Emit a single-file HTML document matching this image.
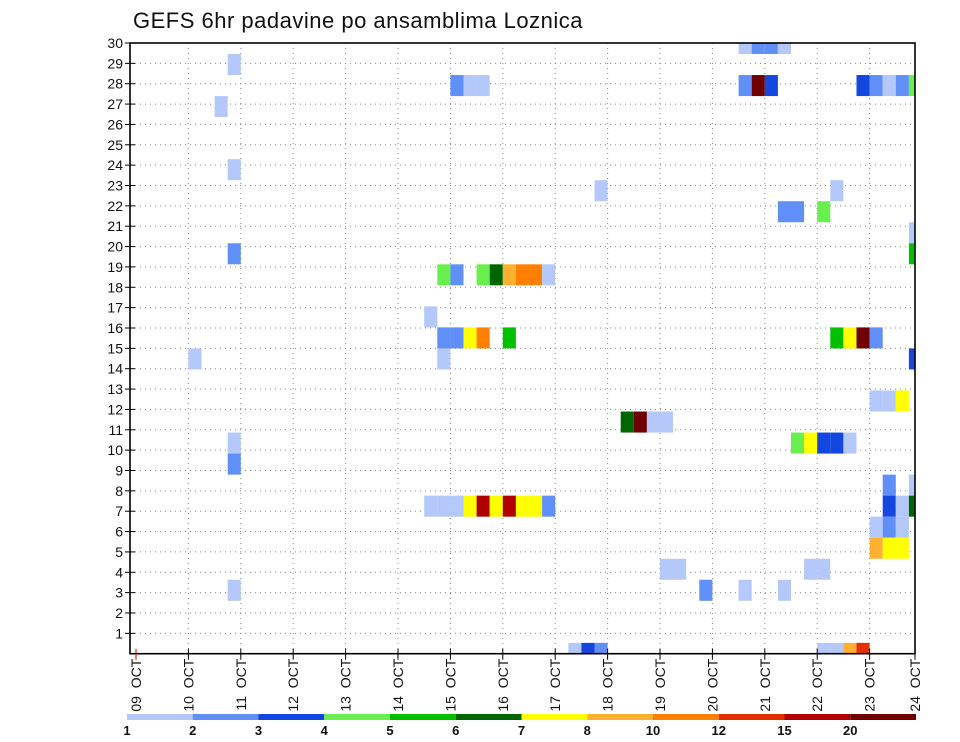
<!DOCTYPE html>
<html><head><meta charset="utf-8"><style>
html,body{margin:0;padding:0;background:#fff;width:960px;height:742px;overflow:hidden}
svg{display:block}
text{font-family:"Liberation Sans",sans-serif;fill:#111}
</style></head><body>
<svg id="chart" width="960" height="742" xmlns="http://www.w3.org/2000/svg">
<text x="133" y="28" font-size="22" letter-spacing="0.5">GEFS 6hr padavine po ansamblima Loznica</text>
<defs><clipPath id="plotclip"><rect x="130" y="43" width="785" height="610.7"/></clipPath></defs>
<g id="grid"></g>
<g id="cells" clip-path="url(#plotclip)"></g>
<g id="axes"></g>
<g id="legend"></g>
</svg>
<script>
// data: 6-hour step index from 09 OCT 00Z, ensemble member, precipitation mm
const cellTime =   [46,47,48,49, 7, 24,25,26,46,47,48,55,56,57,58,59, 6, 7, 35,53, 49,50,52, 59, 7,59, 23,24,26,27,28,29,30,31, 22, 23,24,25,26,28,53,54,55,56, 4,23,59, 56,57,58, 37,38,39,40, 7,50,51,52,53,54, 7, 57,59, 22,23,24,25,26,27,28,29,30,31,57,58,59, 56,57,58, 56,57,58, 40,41,51,52, 7,43,46,49, 33,34,35,52,53,54,55];
const cellMember = [30,30,30,30,29, 28,28,28,28,28,28,28,28,28,28,28,27,24, 23,23, 22,22,22, 21,20,20, 19,19,19,19,19,19,19,19, 17, 16,16,16,16,16,16,16,16,16, 15,15,15, 13,13,13, 12,12,12,12, 11,11,11,11,11,11,10, 9,9, 8,8,8,8,8,8,8,8,8,8,8,8,8, 7,7,7, 6,6,6, 5,5,5,5, 4,4,4,4, 1,1,1,1,1,1,1];
const cellValue =  [1.5,2.5,2.5,1.5,1.5, 2.5,1.5,1.5,2.5,22,3.5,3.5,2.5,1.5,2.5,4.5,1.5,1.5, 1.5,1.5, 2.5,2.5,4.5, 1.5,2.5,5.5, 4.5,2.5,4.5,6.5,9,11,11,1.5, 1.5, 2.5,2.5,7.5,11,5.5,5.5,7.5,22,2.5, 1.5,1.5,3.5, 1.5,1.5,7.5, 6.5,22,1.5,1.5, 1.5,4.5,7.5,3.5,3.5,1.5,2.5, 2.5,1.5, 1.5,1.5,1.5,7.5,17,7.5,17,7.5,7.5,2.5,3.5,1.5,6.5, 1.5,2.5,1.5, 9,7.5,7.5, 1.5,1.5,1.5,1.5, 1.5,2.5,1.5,1.5, 1.5,3.5,2.5,1.5,1.5,9,13];
const levels = [1,2,3,4,5,6,7,8,10,12,15,20];
const levelColors = ["#b4c8fa","#5f8ff7","#1446e0","#6af04e","#00c000","#006600","#ffff00","#ffb030","#ff8000","#e43000","#b00000","#700000"];
const dayLabels = ["09","10","11","12","13","14","15","16","17","18","19","20","21","22","23","24"];
const yTicks = [1,2,3,4,5,6,7,8,9,10,11,12,13,14,15,16,17,18,19,20,21,22,23,24,25,26,27,28,29,30];

const NS="http://www.w3.org/2000/svg";
const X0=130,X1=915,Y0=43,Y1=653.7;
const dayPx=52.4, day0=136;
function xDay(d){return day0+dayPx*d;}
function xStep(i){return day0+dayPx/4*i;}
function yAxis(r){return Y1-(Y1-Y0)/30*r;}
const cellH=21.03;
function yMember(m){return 674.4-cellH*m;}
function colorFor(v){let k=0;for(let j=0;j<levels.length;j++){if(v>=levels[j])k=j;}return levelColors[k];}
function mk(tag,attrs,parent){const e=document.createElementNS(NS,tag);for(const k in attrs)e.setAttribute(k,attrs[k]);parent.appendChild(e);return e;}

const grid=document.getElementById('grid');
for(let d=1;d<dayLabels.length;d++){const x=xDay(d);if(x>=X1)continue;
 const l=mk('line',{x1:x,x2:x,y1:Y0,y2:Y1,stroke:'#888','stroke-width':1,'stroke-dasharray':'1 4'},grid);
 
 }
yTicks.forEach(r=>{if(r>=30)return;const y=yAxis(r);
 const l=mk('line',{x1:X0,x2:X1,y1:y,y2:y,stroke:'#888','stroke-width':1,'stroke-dasharray':'1 4'},grid);
 
 });

const cells=document.getElementById('cells');
for(let n=0;n<cellTime.length;n++){
 const r=mk('rect',{x:xStep(cellTime[n]),y:yMember(cellMember[n])-cellH/2,width:dayPx/4,height:cellH,fill:colorFor(cellValue[n])},cells);
 
 }

const axes=document.getElementById('axes');
const box=mk('rect',{x:X0,y:Y0,width:X1-X0,height:Y1-Y0,fill:'none',stroke:'#000','stroke-width':1.6},axes);


yTicks.forEach(r=>{const y=yAxis(r);
 mk('line',{x1:X0-5,x2:X0+5,y1:y,y2:y,stroke:'#000','stroke-width':1},axes);
 const t=mk('text',{x:X0-7,y:y+5,'font-size':14,'text-anchor':'end'},axes);
 
 
 t.textContent=r;});
dayLabels.forEach((lab,d)=>{let x=xDay(d);if(x>X1)x=X1;
 mk('line',{x1:x,x2:x,y1:Y1-5,y2:Y1+6,stroke:d===0?'#c00':'#000','stroke-width':1},axes);
 const t=mk('text',{x:0,y:0,'font-size':14,'text-anchor':'end',transform:`translate(${x+5},${Y1+5}) rotate(-90)`},axes);
 
 
 t.textContent=lab+'\u00a0\u00a0OCT';});

const leg=document.getElementById('legend');
const LX0=127,LW=65.75;
levelColors.forEach((c,k)=>{
 const r=mk('rect',{x:LX0+LW*k,y:714,width:LW,height:6,fill:c},leg);
 
 
 const t=mk('text',{x:LX0+LW*k,y:735,'font-size':13,'font-weight':'bold','text-anchor':'middle'},leg);
 
 
 t.textContent=levels[k];});
</script>
</body></html>
